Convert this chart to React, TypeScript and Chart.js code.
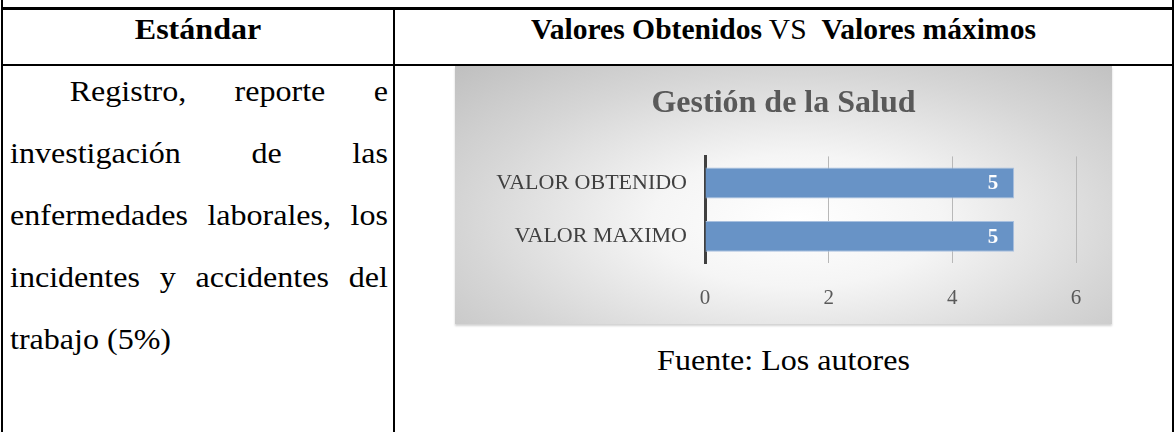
import React, { useEffect, useRef } from "react";
import { Chart, registerables } from "chart.js";

Chart.register(...registerables);

// ---- data ----
const categories = ["VALOR OBTENIDO", "VALOR MAXIMO"];
const values = [5, 5];
const xTicks = [0, 2, 4, 6];
const chartTitle = "Gestión de la Salud";
const headerLeft = "Estándar";
const bodyLines = [
  "Registro, reporte e",
  "investigación de las",
  "enfermedades laborales, los",
  "incidentes y accidentes del",
  "trabajo (5%)",
];
const sourceText = "Fuente: Los autores";

const SERIF = "'Liberation Serif', 'Times New Roman', serif";
const STRETCH = 1.105;

const valueLabels = {
  id: "valueLabels",
  afterDatasetsDraw(chart: any) {
    const ctx = chart.ctx;
    const meta = chart.getDatasetMeta(0);
    ctx.save();
    ctx.fillStyle = "#ffffff";
    ctx.font = `bold 21px ${SERIF}`;
    ctx.textAlign = "right";
    ctx.textBaseline = "middle";
    meta.data.forEach((bar: any, i: number) => {
      const v = chart.data.datasets[0].data[i];
      ctx.fillText(String(v), bar.x - 16, bar.y + 1);
    });
    ctx.restore();
  },
};

function BarChart() {
  const ref = useRef<HTMLCanvasElement | null>(null);
  useEffect(() => {
    if (!ref.current) return;
    const chart = new Chart(ref.current, {
      type: "bar",
      data: {
        labels: categories,
        datasets: [
          {
            data: values,
            backgroundColor: "#6893C6",
            borderColor: "#A8C0DF",
            borderWidth: 1,
            barPercentage: 0.58,
            categoryPercentage: 1,
          },
        ],
      },
      options: {
        indexAxis: "y",
        responsive: false,
        animation: false,
        layout: { padding: 0 },
        plugins: {
          legend: { display: false },
          tooltip: { enabled: false },
          title: {
            display: true,
            text: chartTitle,
            color: "#595959",
            font: { family: SERIF, size: 32, weight: "bold" },
            padding: { top: 19, bottom: 33 },
          },
        },
        scales: {
          x: {
            min: 0,
            max: 6,
            afterBuildTicks: (s: any) => {
              s.ticks = xTicks.map((v) => ({ value: v }));
            },
            ticks: {
              color: "#595959",
              font: { family: SERIF, size: 21 },
              padding: 23,
            },
            grid: {
              color: (c: any) => (c.tick && c.tick.value === 0 ? "rgba(0,0,0,0)" : "#b8b8b8"),
              drawTicks: false,
              lineWidth: 1,
            },
            border: { display: false },
            afterFit: (s: any) => {
              s.height = 61;
            },
          },
          y: {
            ticks: {
              color: "#404040",
              font: { family: SERIF, size: 22 },
              padding: 18,
            },
            grid: { display: false, drawTicks: false },
            border: { display: true, color: "#404040", width: 3 },
            afterFit: (s: any) => {
              s.width = 250;
            },
          },
          yRightSpace: {
            type: "category",
            axis: "y",
            position: "right",
            grid: { display: false, drawTicks: false },
            ticks: { display: false },
            border: { display: false },
            afterFit: (s: any) => {
              s.width = 36;
            },
          },
        },
      } as any,
      plugins: [valueLabels],
    });
    return () => chart.destroy();
  }, []);
  return (
    <canvas
      ref={ref}
      width={657}
      height={258}
      style={{
        position: "absolute",
        left: 455,
        top: 66,
        width: 657,
        height: 258,
        background:
          "radial-gradient(ellipse farthest-corner at 52% 60%, #ffffff 0%, #f5f5f5 30%, #d6d6d6 68%, #bfbfbf 100%)",
        boxShadow: "0 2px 2px rgba(0,0,0,0.18)",
      }}
    />
  );
}

const line = (l: number, t: number, w: number, h: number) => (
  <div style={{ position: "absolute", left: l, top: t, width: w, height: h, background: "#000" }} />
);

export default function App() {
  useEffect(() => {
    document.body.style.margin = "0";
  }, []);
  return (
    <div
      style={{
        position: "relative",
        width: 1175,
        height: 432,
        overflow: "hidden",
        background: "#fff",
        fontFamily: SERIF,
        color: "#000",
      }}
    >
      {/* table borders */}
      {line(1, 0, 2, 432)}
      {line(1172, 0, 2, 432)}
      {line(1, 7, 1173, 3)}
      {line(1, 64, 1173, 2)}
      {line(393, 8, 2, 424)}

      {/* headers */}
      <div
        style={{
          position: "absolute",
          left: 3,
          top: 8,
          width: 390,
          lineHeight: "42px",
          textAlign: "center",
          fontSize: 29,
          fontWeight: "bold",
          transform: `scaleX(${STRETCH})`,
        }}
      >
        {headerLeft}
      </div>
      <div
        style={{
          position: "absolute",
          left: 395,
          top: 8,
          width: 777,
          lineHeight: "42px",
          textAlign: "center",
          fontSize: 29,
          whiteSpace: "pre",
          transform: "scaleX(1.02)",
        }}
      >
        <b>Valores Obtenidos</b> VS  <b>Valores máximos</b>
      </div>

      {/* body text */}
      <div
        style={{
          position: "absolute",
          left: 10,
          top: 60,
          width: Math.round(378 / STRETCH),
          fontSize: 29,
          lineHeight: "62px",
          transformOrigin: "left top",
          transform: `scaleX(${STRETCH})`,
        }}
      >
        {bodyLines.map((t, i) => (
          <div
            key={i}
            style={{
              textAlign: i < bodyLines.length - 1 ? "justify" : "left",
              textAlignLast: i < bodyLines.length - 1 ? "justify" : "left",
              textIndent: i === 0 ? 54 : 0,
              whiteSpace: "nowrap",
            } as any}
          >
            {t}
          </div>
        ))}
      </div>

      <BarChart />

      <div
        style={{
          position: "absolute",
          left: 395,
          top: 339,
          width: 777,
          lineHeight: "42px",
          textAlign: "center",
          fontSize: 29,
          transform: `scaleX(${STRETCH})`,
        }}
      >
        {sourceText}
      </div>
    </div>
  );
}
